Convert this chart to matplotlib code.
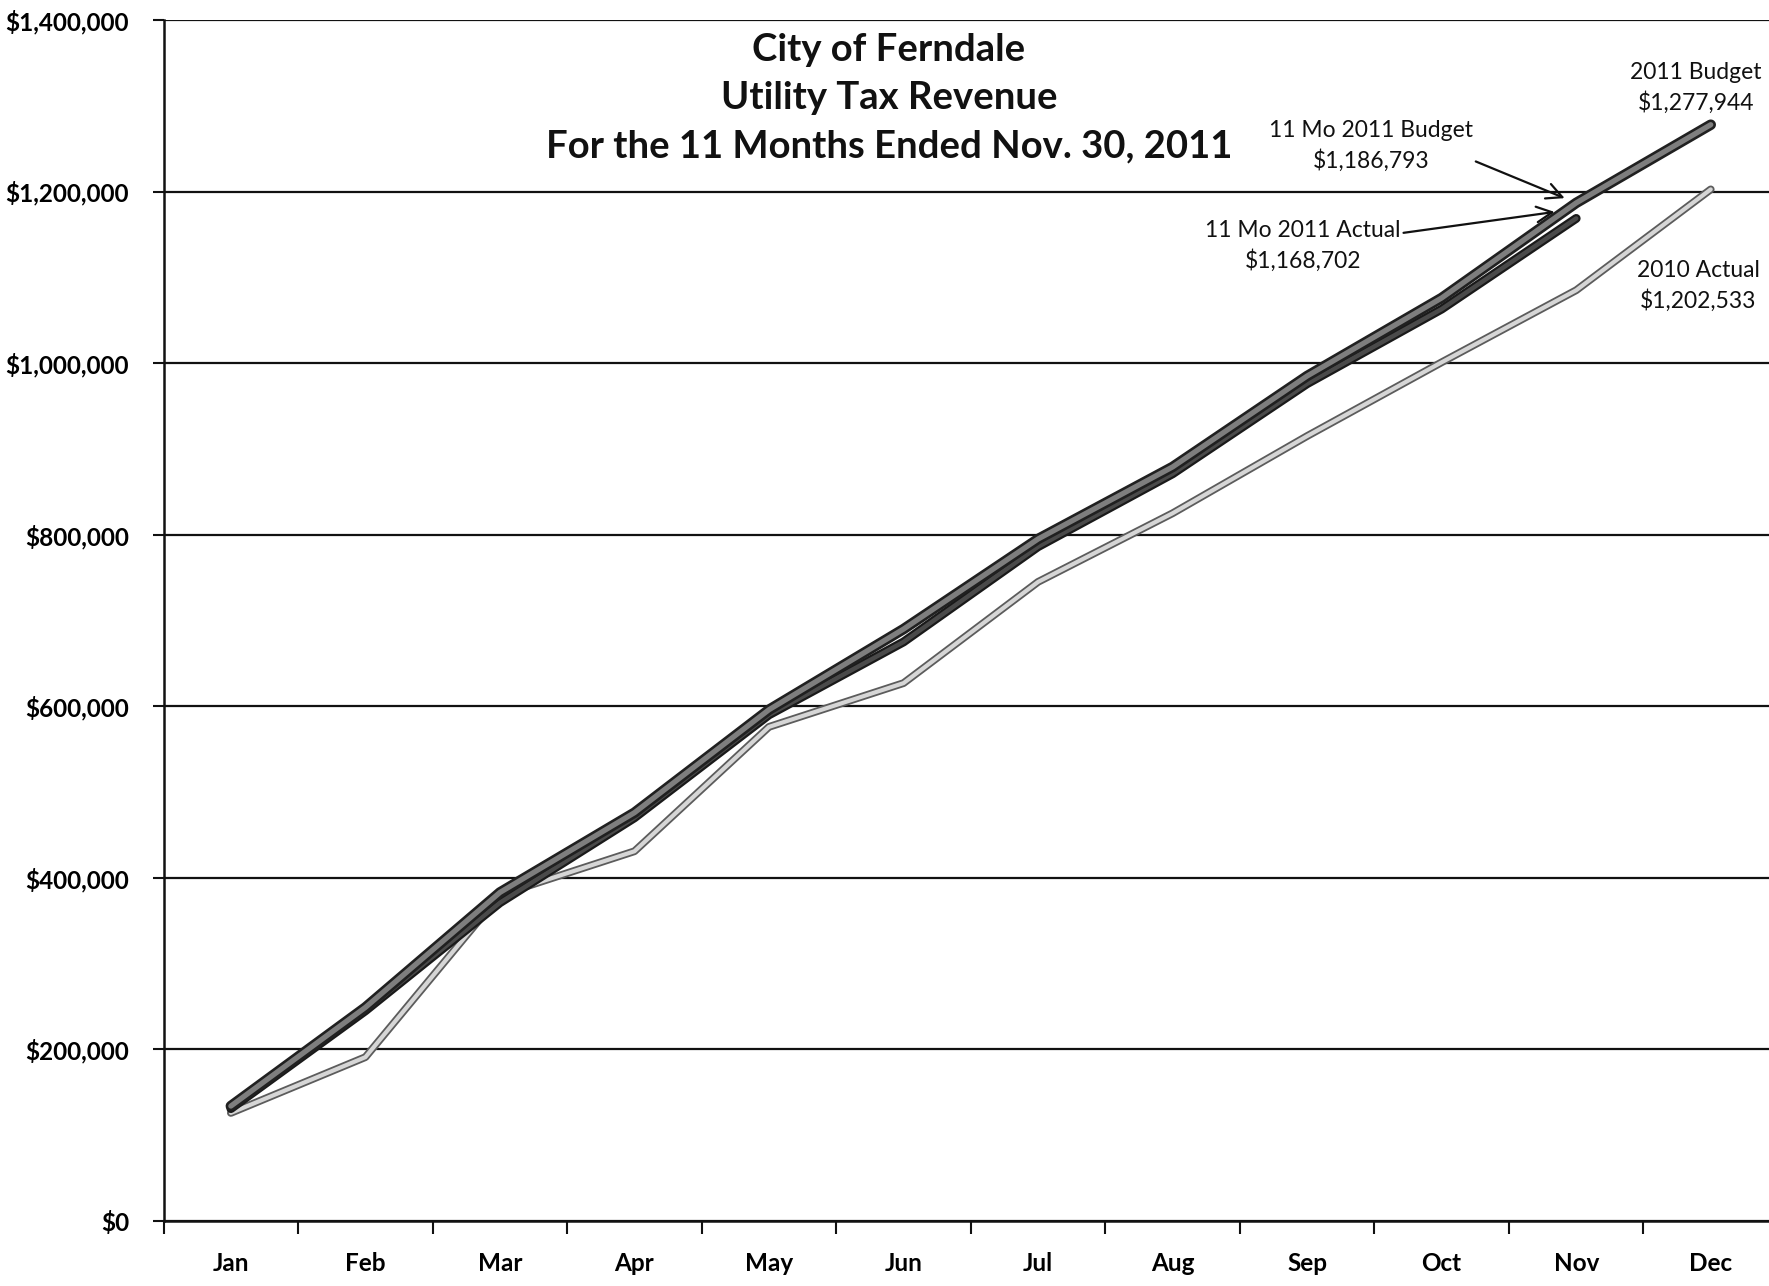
import matplotlib
matplotlib.use("Agg")
import matplotlib.pyplot as plt
import matplotlib.patheffects as pe
from matplotlib.ticker import FuncFormatter, FixedLocator

# --- data ---
months = ["Jan", "Feb", "Mar", "Apr", "May", "Jun",
          "Jul", "Aug", "Sep", "Oct", "Nov", "Dec"]
budget_2011 = [134000, 249000, 383000, 476000, 596000, 690000,
               795000, 879000, 985000, 1076000, 1186793, 1277944]
actual_2011 = [131000, 245000, 371000, 470000, 590000, 675000,
               786000, 871000, 976000, 1063000, 1168702]
actual_2010 = [126000, 191000, 380000, 431000, 576000, 627000,
               745000, 825000, 915000, 1001000, 1085000, 1202533]
y_ticks = [0, 200000, 400000, 600000, 800000, 1000000, 1200000, 1400000]

plt.rcParams["font.family"] = ["Lato", "DejaVu Sans"]

W, H = 1769, 1286
fig = plt.figure(figsize=(W / 100, H / 100), dpi=100)
ax = fig.add_axes([163.6 / W, 65 / H, (1778 - 163.6) / W, (1221 - 20) / H])

x_all = list(range(len(months)))

# lines: dark outline with lighter core, like the scanned original
ax.plot(x_all, actual_2010, color="#d6d6d6", lw=3.0, solid_capstyle="round",
        path_effects=[pe.Stroke(linewidth=5.6, foreground="#5c5c5c"), pe.Normal()],
        zorder=3)
ax.plot(x_all[:len(actual_2011)], actual_2011, color="#4a4a4a", lw=3.2,
        solid_capstyle="round",
        path_effects=[pe.Stroke(linewidth=6.4, foreground="#1a1a1a"), pe.Normal()],
        zorder=4)
ax.plot(x_all, budget_2011, color="#7e7e7e", lw=3.8, solid_capstyle="round",
        path_effects=[pe.Stroke(linewidth=7.6, foreground="#202020"), pe.Normal()],
        zorder=5)

# axes / grid
ax.set_xlim(-0.5, len(months) - 0.5)
ax.set_ylim(0, 1400000)
ax.yaxis.set_major_locator(FixedLocator(y_ticks))
ax.yaxis.set_major_formatter(FuncFormatter(lambda v, p: f"${v:,.0f}"))
ax.grid(axis="y", color="#111111", lw=1.6, zorder=1)
ax.set_axisbelow(True)
for s in ["top", "right"]:
    ax.spines[s].set_visible(False)
for s in ["left", "bottom"]:
    ax.spines[s].set_color("#111111")
    ax.spines[s].set_linewidth(1.8)

ax.set_xticks(x_all)
ax.set_xticklabels(months)
ax.set_xticks([i - 0.5 for i in range(len(months) + 1)], minor=True)
ax.tick_params(axis="x", which="major", length=0, pad=22,
               labelsize=17.5)
ax.tick_params(axis="x", which="minor", length=9, width=1.5, direction="out",
               color="#111111")
ax.tick_params(axis="y", which="major", length=8, width=1.5, pad=17,
               labelsize=17.5, color="#111111")
for lab in ax.get_xticklabels() + ax.get_yticklabels():
    lab.set_fontweight("bold")

# title
fig.text(889 / W, 1 - 98 / H,
         "City of Ferndale\nUtility Tax Revenue\nFor the 11 Months Ended Nov. 30, 2011",
         ha="center", va="center", fontsize=27.5, fontweight="bold",
         linespacing=1.5, color="#111111")

# callouts
fs = 16.5
fig.text(1696 / W, 1 - 88 / H, "2011 Budget\n$1,277,944", ha="center",
         va="center", fontsize=fs, linespacing=1.4, color="#111111")
fig.text(1698 / W, 1 - 286 / H, "2010 Actual\n$1,202,533", ha="center",
         va="center", fontsize=fs, linespacing=1.4, color="#111111")

arrow = dict(arrowstyle="->", color="#111111", lw=1.6, mutation_scale=28,
             shrinkA=0, shrinkB=9)
ax.annotate("11 Mo 2011 Budget\n$1,186,793", xy=(10, budget_2011[10]),
            xytext=(1371 / W, 1 - 146 / H), textcoords="figure fraction",
            ha="center", va="center", fontsize=fs, linespacing=1.4,
            color="#111111", arrowprops=dict(arrow, relpos=(1.0, 0.22)),
            zorder=6)
ax.annotate("11 Mo 2011 Actual\n$1,168,702", xy=(9.86, actual_2011[10] + 8000),
            xytext=(1303 / W, 1 - 246 / H), textcoords="figure fraction",
            ha="center", va="center", fontsize=fs, linespacing=1.4,
            color="#111111", arrowprops=dict(arrow, relpos=(1.0, 0.75), shrinkB=2),
            zorder=6)

fig.savefig("out.png", dpi=100, facecolor="white")
